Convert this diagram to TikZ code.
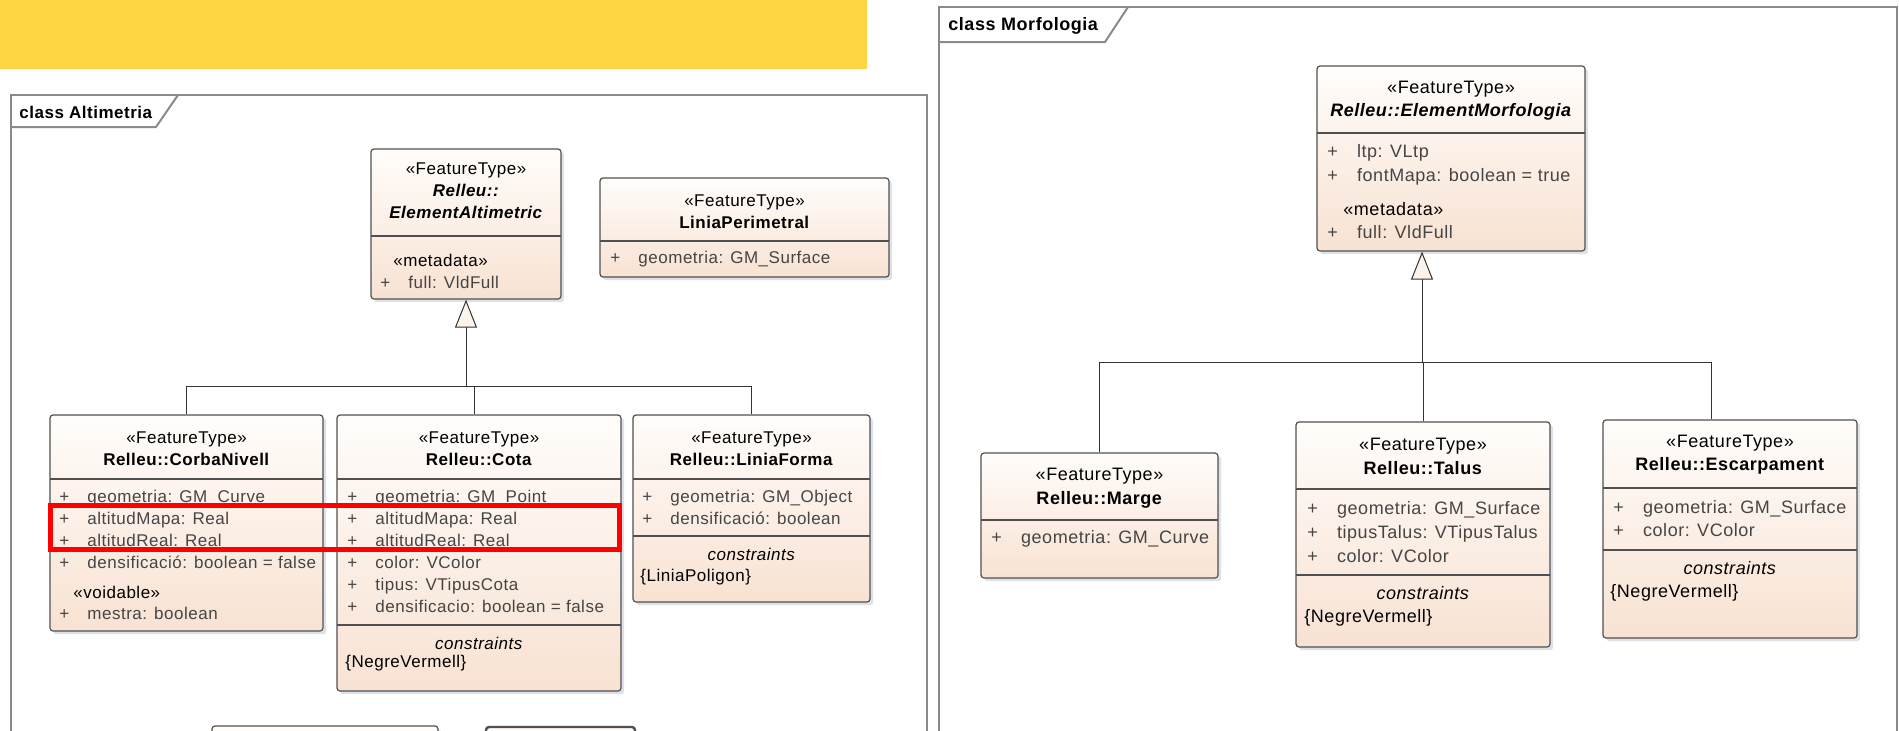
\documentclass[tikz,border=0pt]{standalone}
\usepackage{fontspec}
\setmainfont{Liberation Sans}[LetterSpace=3]
\usetikzlibrary{positioning, fit, shadows, arrows.meta}

\definecolor{clstop}{HTML}{FFFDFB}
\definecolor{clsbot}{HTML}{F8E2D2}
\definecolor{clsline}{HTML}{505050}
\definecolor{attgray}{HTML}{454545}
\definecolor{frmgray}{HTML}{8A8A8A}
\definecolor{shdblue}{HTML}{BCC4D4}
\definecolor{notey}{HTML}{FED643}
\definecolor{trifill}{HTML}{FCF3EA}

\newcommand{\pl}{\makebox[1.65em][l]{+}}

\tikzset{
  cls/.style={draw=clsline, line width=0.6pt, rounded corners=1.5pt, top color=clstop, bottom color=clsbot, inner sep=0pt, drop shadow={shadow xshift=1.6pt, shadow yshift=-1.6pt, fill=shdblue}},
  hdr/.style={align=center, inner sep=0pt},
  att/.style={align=left, anchor=west, inner sep=0pt, text=attgray},
  grp/.style={anchor=west, inner sep=0pt},
  cons/.style={inner sep=0pt},
  sep/.style={draw=clsline, line width=0.6pt},
  frm/.style={draw=frmgray, line width=1pt},
  lnk/.style={draw=black!80, line width=0.5pt},
  gen/.style={lnk, -{Triangle[length=14pt, width=11pt, fill=trifill]}},
  hilite/.style={draw=red, line width=2.5pt, inner sep=0pt}
}

\begin{document}
\begin{tikzpicture}[x=0.5pt, y=-0.5pt]
\useasboundingbox (0,0) rectangle (1899,730);
\clip (0,0) rectangle (1899,730);

\node[fill=notey, inner sep=0pt, fit={(0,0) (867,69)}] (banner) {};

% Altimetria
\begin{scope}[nodes={font=\fontsize{8.5}{11}\selectfont}]
\draw[frm] (11,95) rectangle (927,760);
\draw[frm] (11,127) -- (156,127) -- (178,95);
\node[grp] (ttlA) at (19,112) {\textbf{class Altimetria}};

\node[cls, fit={(371,149) (561,299)}] (elemA) {};
\node[hdr] (elemAh) at (466,190.5) {«FeatureType»\\\textbf{\textit{Relleu::}}\\\textbf{\textit{ElementAltimetric}}};
\draw[sep] (371,236) -- (561,236);
\node[grp] (elemAg) at (393,260) {«metadata»};
\node[att] (elemAa) at (380,282) {\pl full: VldFull};

\node[cls, fit={(600,178) (889,277)}] (perim) {};
\node[hdr] (perimh) at (744.5,211.5) {«FeatureType»\\\textbf{LiniaPerimetral}};
\draw[sep] (600,241) -- (889,241);
\node[att] (perima) at (610,259) {\pl geometria: GM\_Surface};

\node[cls, fit={(50,415) (323,631)}] (corba) {};
\node[hdr] (corbah) at (186.5,448.5) {«FeatureType»\\\textbf{Relleu::CorbaNivell}};
\draw[sep] (50,479) -- (323,479);
\node[att] (corbaa) at (59,529) {\pl geometria: GM\_Curve\\\pl altitudMapa: Real\\\pl altitudReal: Real\\\pl densificació: boolean = false};
\node[grp] (corbag) at (73,592) {«voidable»};
\node[att] (corbav) at (59,613) {\pl mestra: boolean};

\node[cls, fit={(337,415) (621,691)}] (cota) {};
\node[hdr] (cotah) at (479,448.5) {«FeatureType»\\\textbf{Relleu::Cota}};
\draw[sep] (337,479) -- (621,479);
\node[att] (cotaa) at (347,551) {\pl geometria: GM\_Point\\\pl altitudMapa: Real\\\pl altitudReal: Real\\\pl color: VColor\\\pl tipus: VTipusCota\\\pl densificacio: boolean = false};
\draw[sep] (337,625) -- (621,625);
\node[cons] (cotac) at (479,643) {\textit{constraints}};
\node[grp] (cotar) at (345,663) {\{NegreVermell\}};

\node[cls, fit={(633,415) (870,602)}] (forma) {};
\node[hdr] (formah) at (751.5,448.5) {«FeatureType»\\\textbf{Relleu::LiniaForma}};
\draw[sep] (633,479) -- (870,479);
\node[att] (formaa) at (642,507) {\pl geometria: GM\_Object\\\pl densificació: boolean};
\draw[sep] (633,536) -- (870,536);
\node[cons] (formac) at (751.5,554) {\textit{constraints}};
\node[grp] (formar) at (640,577) {\{LiniaPoligon\}};

\node[hilite, fit={(50,505) (619,549)}] (redA) {};

\node[cls, fit={(212,726) (438,770)}] (nextA) {};
\node[cls, line width=1.2pt, fit={(486,727) (635,770)}] (nextB) {};

\coordinate (busA) at (466,386);
\coordinate (cotaJ) at (474,386);
\draw[gen] (busA) -- (elemA.south);
\draw[lnk] (corba.north) |- (busA);
\draw[lnk] (cotaJ |- cota.north) -- (cotaJ) -- (busA);
\draw[lnk] (forma.north) |- (busA);
\end{scope}

% Morfologia
\begin{scope}[nodes={font=\fontsize{9}{11.8}\selectfont}]
\draw[frm] (939,7) rectangle (1897,760);
\draw[frm] (939,42) -- (1105,42) -- (1128,7);
\node[grp] (ttlM) at (948,26) {\textbf{class Morfologia}};

\node[cls, fit={(1317,66) (1585,251)}] (morf) {};
\node[hdr] (morfh) at (1451,100.5) {«FeatureType»\\\textbf{\textit{Relleu::ElementMorfologia}}};
\draw[sep] (1317,133) -- (1585,133);
\node[att] (morfa) at (1327,165) {\pl ltp: VLtp\\\pl fontMapa: boolean = true};
\node[grp] (morfg) at (1343,209) {«metadata»};
\node[att] (morfm) at (1327,232) {\pl full: VldFull};

\node[cls, fit={(981,453) (1218,578)}] (marge) {};
\node[hdr] (margeh) at (1099.5,488) {«FeatureType»\\\textbf{Relleu::Marge}};
\draw[sep] (981,520) -- (1218,520);
\node[att] (margea) at (991,539) {\pl geometria: GM\_Curve};

\node[cls, fit={(1296,422) (1550,647)}] (talus) {};
\node[hdr] (talush) at (1423,456.5) {«FeatureType»\\\textbf{Relleu::Talus}};
\draw[sep] (1296,489) -- (1550,489);
\node[att] (talusa) at (1307,532) {\pl geometria: GM\_Surface\\\pl tipusTalus: VTipusTalus\\\pl color: VColor};
\draw[sep] (1296,575) -- (1550,575);
\node[cons] (talusc) at (1423,593) {\textit{constraints}};
\node[grp] (talusr) at (1304,618) {\{NegreVermell\}};

\node[cls, fit={(1603,420) (1857,638)}] (escarp) {};
\node[hdr] (escarph) at (1730,454.5) {«FeatureType»\\\textbf{Relleu::Escarpament}};
\draw[sep] (1603,488) -- (1857,488);
\node[att] (escarpa) at (1613,518.5) {\pl geometria: GM\_Surface\\\pl color: VColor};
\draw[sep] (1603,550) -- (1857,550);
\node[cons] (escarpc) at (1730,568) {\textit{constraints}};
\node[grp] (escarpr) at (1610,593) {\{NegreVermell\}};

\coordinate (busM) at (1422,362);
\coordinate (escJ) at (1711,362);
\draw[gen] (busM) -- (busM |- morf.south);
\draw[lnk] (marge.north) |- (busM);
\draw[lnk] (talus.north) |- (busM);
\draw[lnk] (escJ |- escarp.north) -- (escJ) -- (busM);
\end{scope}
\end{tikzpicture}
\end{document}
